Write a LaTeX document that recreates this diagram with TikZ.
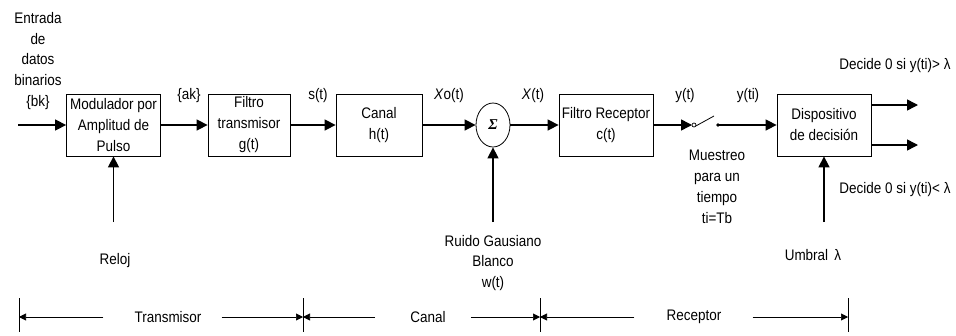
\documentclass[tikz,border=0pt]{standalone}
\usepackage{fontspec}
\setmainfont[FakeStretch=0.88]{Liberation Sans}
\newfontfamily\sigmafont{Liberation Serif}
\usetikzlibrary{arrows.meta,shapes.geometric}
\begin{document}
\begin{tikzpicture}[x=1pt,y=-1pt,
  lbl/.style={inner sep=0pt,align=center,font=\fontsize{15.3}{20.8}\selectfont},
  blk/.style={draw,line width=0.8pt,minimum height=62pt,inner sep=0pt,align=center,font=\fontsize{15.3}{21}\selectfont},
  sig/.style={line width=1.5pt,-{Triangle[length=11pt,width=11pt]}},
  dimarr/.style={line width=0.6pt,-{Triangle[length=7pt,width=7pt]}},
  tick/.style={line width=0.6pt}]
\useasboundingbox (0,0) rectangle (956,335);
% blocks
\node[blk,minimum width=94pt] (mod) at (113.5,125) {Modulador por\\Amplitud de\\Pulso};
\node[blk,minimum width=82pt] (ftx) at (249,125) {Filtro\\transmisor\\g(t)};
\node[blk,minimum width=86pt] (can) at (379,125) {Canal\\h(t)};
\node[draw,ellipse,line width=0.8pt,minimum width=34pt,minimum height=44pt,inner sep=0pt] (sum) at (493,125) {\sigmafont\bfseries\itshape\fontsize{15}{15}\selectfont Σ};
\node[blk,minimum width=94pt] (frx) at (606,125) {Filtro Receptor\\c(t)};
\node[blk,minimum width=94pt] (dec) at (824,125) {Dispositivo\\de decisión};
% free ends
\coordinate (in) at (18,125);
\coordinate (clk) at (113.5,222);
\coordinate (noi) at (493,222);
\coordinate (thr) at (824,222);
\coordinate (sw1) at (694,125);
\coordinate (sw2) at (714,116);
\coordinate (sw3) at (718,125);
\coordinate (o1s) at (871,105);
\coordinate (o1e) at (918,105);
\coordinate (o2s) at (871,145);
\coordinate (o2e) at (918,145);
% signal connectors
\draw[sig] (in) -- (mod.west);
\draw[sig] (mod.east) -- (ftx.west);
\draw[sig] (ftx.east) -- (can.west);
\draw[sig] (can.east) -- (sum.west);
\draw[sig] (sum.east) -- (frx.west);
\draw[sig] (frx.east) -- ([xshift=-2pt]sw1);
\draw[line width=0.7pt] (sw1) circle (2pt);
\draw[line width=0.8pt] ([xshift=1.8pt,yshift=-1pt]sw1) -- (sw2);
\fill (sw3) circle (1.8pt);
\draw[sig] (sw3) -- (dec.west);
\draw[sig] (o1s) -- (o1e);
\draw[sig] (o2s) -- (o2e);
\draw[sig] (clk) -- (mod.south);
\draw[sig] (noi) -- (sum.south);
\draw[sig] (thr) -- (dec.south);
% labels
\node[lbl] (lin) at (38,61) {Entrada\\de\\datos\\binarios\\\{bk\}};
\node[lbl] (lak) at (189,96) {\{ak\}};
\node[lbl] (lst) at (318,96) {s(t)};
\node[lbl] (lxo) at (449,96) {\textit{X}o(t)};
\node[lbl] (lx) at (533,96) {\textit{X}(t)};
\node[lbl] (lyt) at (685,96) {y(t)};
\node[lbl] (lyti) at (748,96) {y(ti)};
\node[lbl] (lmu) at (717,187) {Muestreo\\para un\\tiempo\\ti=Tb};
\node[lbl] (ld1) at (895,66) {Decide 0 si y(ti)> λ};
\node[lbl] (ld2) at (895,190) {Decide 0 si y(ti)< λ};
\node[lbl] (lrel) at (115,261) {Reloj};
\node[lbl] (lrui) at (493,263) {Ruido Gausiano\\Blanco\\w(t)};
\node[lbl] (lumb) at (813,255) {Umbral\, λ};
% dimension line
\coordinate (t1a) at (19,298); \coordinate (t1b) at (19,332);
\coordinate (t2a) at (303,298); \coordinate (t2b) at (303,332);
\coordinate (t3a) at (540,298); \coordinate (t3b) at (540,332);
\coordinate (t4a) at (848,298); \coordinate (t4b) at (848,332);
\draw[tick] (t1a) -- (t1b);
\draw[tick] (t2a) -- (t2b);
\draw[tick] (t3a) -- (t3b);
\draw[tick] (t4a) -- (t4b);
\node[lbl] (ltx) at (168,317) {Transmisor};
\node[lbl] (lca) at (428,317) {Canal};
\node[lbl] (lre) at (694,317) {Receptor};
\coordinate (d1) at (19,317); \coordinate (d2) at (303,317);
\coordinate (d3) at (540,317); \coordinate (d4) at (848,317);
\draw[dimarr] (ltx.west) ++(-31pt,0) -- (d1);
\draw[dimarr] (ltx.east) ++(20pt,0) -- (d2);
\draw[dimarr] (lca.west) ++(-35pt,0) -- (d2);
\draw[dimarr] (lca.east) ++(25pt,0) -- (d3);
\draw[dimarr] (lre.west) ++(-32pt,0) -- (d3);
\draw[dimarr] (lre.east) ++(31pt,0) -- (d4);
\end{tikzpicture}
\end{document}
